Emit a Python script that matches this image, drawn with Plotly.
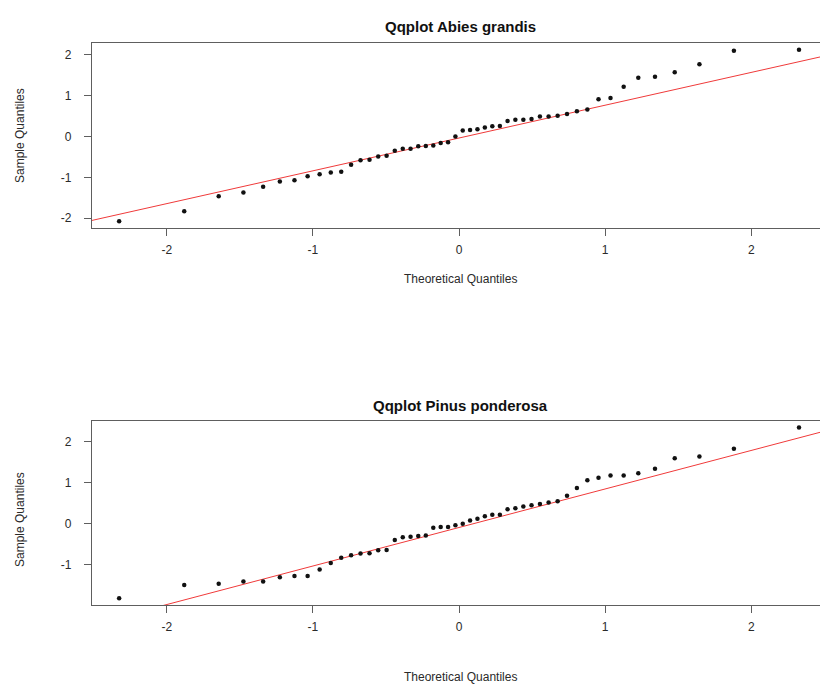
import numpy as np
import plotly.graph_objects as go

# Theoretical normal quantiles for n = 50 (qnorm(ppoints(50)))
theoretical_neg = [-2.3263, -1.8808, -1.6449, -1.4758, -1.3408, -1.2265, -1.1264,
                   -1.0364, -0.9542, -0.8779, -0.8064, -0.7388, -0.6745, -0.6128,
                   -0.5534, -0.4959, -0.4399, -0.3853, -0.3319, -0.2793, -0.2275,
                   -0.1764, -0.1257, -0.0753, -0.0251]
theoretical = theoretical_neg + [-v for v in reversed(theoretical_neg)]

# Sorted standardized sample values
abies_grandis = [-2.07, -1.83, -1.46, -1.37, -1.23, -1.10, -1.07, -0.97, -0.92, -0.88,
                 -0.86, -0.69, -0.58, -0.57, -0.49, -0.47, -0.35, -0.30, -0.30, -0.24,
                 -0.23, -0.22, -0.16, -0.14, 0.00, 0.15, 0.16, 0.18, 0.22, 0.25,
                 0.26, 0.38, 0.41, 0.41, 0.43, 0.49, 0.49, 0.51, 0.55, 0.62,
                 0.66, 0.91, 0.94, 1.22, 1.44, 1.46, 1.57, 1.77, 2.10, 2.12]

pinus_ponderosa = [-1.82, -1.50, -1.47, -1.41, -1.41, -1.31, -1.28, -1.28, -1.12, -0.96,
                   -0.83, -0.77, -0.73, -0.72, -0.65, -0.64, -0.40, -0.33, -0.32, -0.30,
                   -0.29, -0.10, -0.08, -0.08, -0.04, 0.00, 0.08, 0.12, 0.18, 0.22,
                   0.22, 0.35, 0.38, 0.42, 0.45, 0.48, 0.52, 0.55, 0.68, 0.87,
                   1.06, 1.12, 1.18, 1.18, 1.23, 1.34, 1.60, 1.64, 1.83, 2.35]

x_ticks = [-2, -1, 0, 1, 2]
panels = [
    ("Qqplot Abies grandis", abies_grandis, [-2, -1, 0, 1, 2]),
    ("Qqplot Pinus ponderosa", pinus_ponderosa, [-1, 0, 1, 2]),
]

W, H = 820, 689
x_left = 92 / W
top_dom = [1 - 228 / H, 1 - 43 / H]
bot_dom = [1 - 605 / H, 1 - 420.7 / H]
x_range = [-2.512, 2.47]
x_full = [-2.512, 2.512]

FONT = "Liberation Sans, Arial, sans-serif"
TXT = "#2a2a2a"

fig = go.Figure()

for i, (title, sample, yticks) in enumerate(panels):
    xa = "x" if i == 0 else "x2"
    ya = "y" if i == 0 else "y2"
    # qqline: through the first and third quartiles
    q1, q3 = np.quantile(sample, [0.25, 0.75])
    z1, z3 = -0.6745, 0.6745
    slope = (q3 - q1) / (z3 - z1)
    intercept = q1 - slope * z1
    fig.add_trace(go.Scatter(
        x=x_full, y=[intercept + slope * v for v in x_full],
        mode="lines", line=dict(color="#f03a3a", width=1),
        xaxis=xa, yaxis=ya, showlegend=False, hoverinfo="skip"))
    fig.add_trace(go.Scatter(
        x=theoretical, y=sample, mode="markers",
        marker=dict(color="#111111", size=4.5),
        xaxis=xa, yaxis=ya, showlegend=False))

axis_common = dict(
    showgrid=False, zeroline=False, showline=True, linecolor="#5e5e5e", linewidth=1.4,
    ticks="outside", ticklen=7, tickcolor="#5e5e5e", tickwidth=1,
    tickfont=dict(family=FONT, size=12, color=TXT),
)


def padded(vals):
    lo, hi = min(vals), max(vals)
    pad = 0.04 * (hi - lo)
    return [lo - pad, hi + pad]


fig.update_layout(
    width=W, height=H,
    margin=dict(l=0, r=0, t=0, b=0),
    paper_bgcolor="white", plot_bgcolor="white",
    xaxis=dict(domain=[x_left, 1], anchor="y", range=x_range, mirror=True,
               tickvals=x_ticks, ticktext=[str(v) for v in x_ticks],
               ticklabelstandoff=3, **axis_common),
    yaxis=dict(domain=top_dom, anchor="x", range=padded(abies_grandis),
               tickvals=panels[0][2], ticktext=[str(v) for v in panels[0][2]],
               ticklabelstandoff=10, **axis_common),
    xaxis2=dict(domain=[x_left, 1], anchor="y2", range=x_range, mirror=True,
                tickvals=x_ticks, ticktext=[str(v) for v in x_ticks],
                ticklabelstandoff=3, **axis_common),
    yaxis2=dict(domain=bot_dom, anchor="x2", range=padded(pinus_ponderosa),
                tickvals=panels[1][2], ticktext=[str(v) for v in panels[1][2]],
                ticklabelstandoff=10, **axis_common),
)

# Titles and axis labels
cx = 460 / W
for title, ty, xlab_y, ylab_y in [
    (panels[0][0], 27, 279, 136),
    (panels[1][0], 405, 677, 520),
]:
    fig.add_annotation(text="<b>%s</b>" % title, x=cx, y=1 - ty / H, xref="paper", yref="paper",
                       showarrow=False, font=dict(family=FONT, size=15, color="#111111"),
                       xanchor="center", yanchor="middle")
    fig.add_annotation(text="Theoretical Quantiles", x=cx, y=1 - xlab_y / H, xref="paper",
                       yref="paper", showarrow=False,
                       font=dict(family=FONT, size=12, color=TXT),
                       xanchor="center", yanchor="middle")
    fig.add_annotation(text="Sample Quantiles", x=20 / W, y=1 - ylab_y / H, xref="paper",
                       yref="paper", showarrow=False, textangle=-90,
                       font=dict(family=FONT, size=12, color=TXT),
                       xanchor="center", yanchor="middle")

fig.write_html("out.html")
